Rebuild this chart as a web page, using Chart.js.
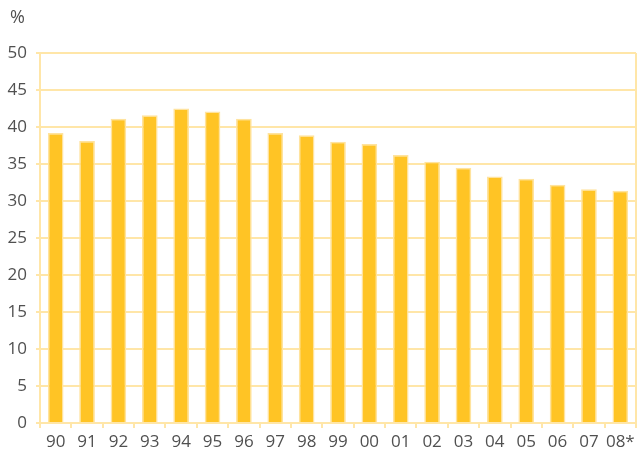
<!DOCTYPE html>
<html>
<head>
<meta charset="utf-8">
<script src="https://cdn.jsdelivr.net/npm/chart.js@4"></script>
<style>
  html, body { margin: 0; padding: 0; background: #fff; }
</style>
</head>
<body>
<canvas id="shareChart" width="641" height="454"></canvas>
<script>
const years = ["90", "91", "92", "93", "94", "95", "96", "97", "98", "99",
  "00", "01", "02", "03", "04", "05", "06", "07", "08*"];
const shares = [39.2, 38.1, 41.1, 41.6, 42.5, 42.1, 41.1, 39.2, 38.9, 38.0,
  37.7, 36.2, 35.3, 34.5, 33.3, 33.0, 32.2, 31.6, 31.4];
const yTicks = [0, 5, 10, 15, 20, 25, 30, 35, 40, 45, 50];

const lineColor = "#FFE6A8";
const textColor = "#505050";

// unit label and right-hand frame line
const extras = {
  id: "extras",
  afterDraw(chart) {
    const c = chart.ctx;
    const area = chart.chartArea;
    c.save();
    c.strokeStyle = lineColor;
    c.lineWidth = 2;
    c.beginPath();
    c.moveTo(area.right, area.top);
    c.lineTo(area.right, area.bottom + 5);
    c.stroke();
    c.fillStyle = textColor;
    c.font = "18px 'Open Sans'";
    c.textBaseline = "middle";
    c.fillText("%", 10, 18);
    c.restore();
  },
};

const ctx = document.getElementById("shareChart").getContext("2d");

const shareChart = new Chart(ctx, {
  type: "bar",
  data: {
    labels: years,
    datasets: [
      {
        data: shares,
        backgroundColor: "#FFC425",
        borderColor: "#FFE39E",
        borderWidth: 1.5,
        categoryPercentage: 1,
        barPercentage: 0.5,
      },
    ],
  },
  options: {
    responsive: false,
    animation: false,
    layout: { padding: { top: 53, right: 5, left: 0, bottom: 0 } },
    plugins: {
      legend: { display: false },
      tooltip: { enabled: false },
    },
    scales: {
      x: {
        afterFit(scale) { scale.height = 31; },
        grid: {
          drawOnChartArea: false,
          color: lineColor,
          lineWidth: 2,
          tickLength: 5,
        },
        border: { color: lineColor, width: 2 },
        ticks: {
          color: textColor,
          font: { family: "Open Sans", size: 17 },
          padding: 4,
          maxRotation: 0,
          autoSkip: false,
        },
      },
      y: {
        min: 0,
        max: 50,
        afterFit(scale) { scale.width = 40; },
        afterBuildTicks(scale) {
          scale.ticks = yTicks.map((v) => ({ value: v }));
        },
        grid: {
          color: lineColor,
          lineWidth: 2,
          tickLength: 4,
        },
        border: { color: lineColor, width: 2 },
        ticks: {
          color: textColor,
          font: { family: "Open Sans", size: 17 },
          padding: 9,
        },
      },
    },
  },
  plugins: [extras],
});
</script>
</body>
</html>
